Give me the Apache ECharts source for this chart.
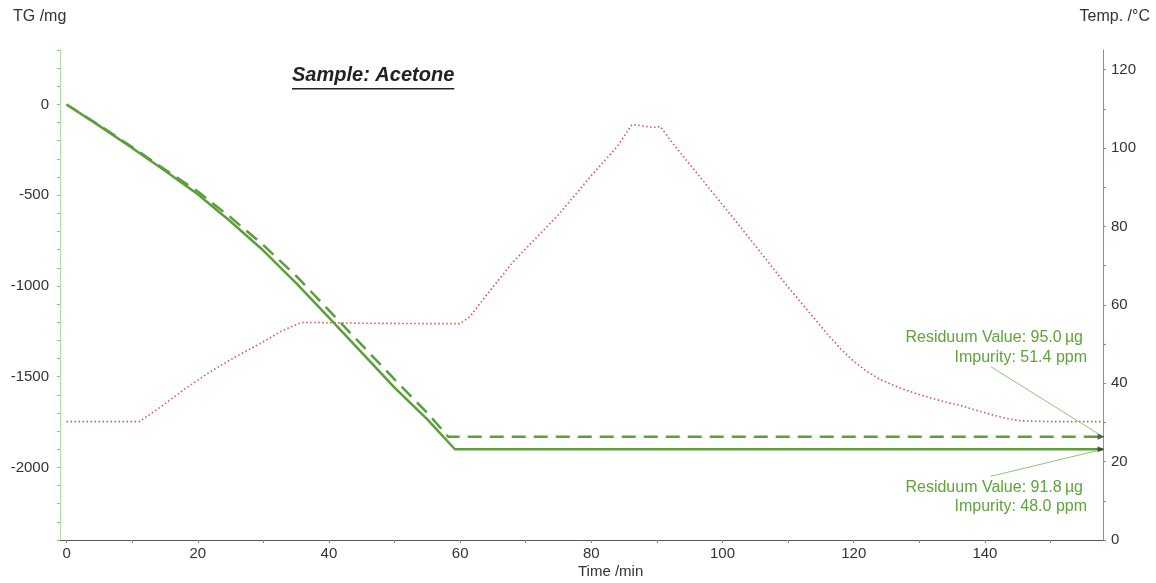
<!DOCTYPE html>
<html>
<head>
<meta charset="utf-8">
<script src="https://cdn.jsdelivr.net/npm/echarts@6/dist/echarts.min.js"></script>
<style>
html,body{margin:0;padding:0;background:#fff;}
#chart{width:1156px;height:583px;}
</style>
</head>
<body>
<div id="chart"></div>
<script>
// ---- data ----
const tgSolidTime = [0, 5, 10, 15, 20, 25, 30, 35, 40, 45, 50, 55, 59.2, 158];
const tgSolidValue = [0, -118, -240, -365, -495, -645, -805, -985, -1175, -1368, -1560, -1735, -1900, -1900];
const tgDashTime = [0, 5, 10, 15, 20, 25, 30, 35, 40, 45, 50, 55, 58.2, 158];
const tgDashValue = [0, -115, -235, -358, -480, -622, -775, -945, -1135, -1325, -1515, -1700, -1831, -1831];
const tempTime = [0, 11.1, 14.2, 18, 21.8, 25.5, 29.5, 33, 35.8, 37, 45, 55, 60, 61.5, 63.6, 68.1, 75, 80, 84, 86.2, 88, 89.5, 90.5, 92.5, 101.7, 110, 116, 118, 120, 122, 124, 126, 128, 130, 132, 134, 136.3, 138.5, 141, 143, 145.5, 150, 158];
const tempValue = [30.2, 30.2, 33.8, 38.5, 42.8, 46.5, 50.1, 53.5, 55.5, 55.5, 55.3, 55.2, 55.2, 57, 61.6, 71, 83, 93, 100.5, 106, 105.6, 105.2, 105.5, 101, 82, 64.5, 52.5, 48.8, 45.6, 43, 41, 39.5, 38.2, 37.1, 36.1, 35.2, 34.3, 33.2, 32.0, 31.1, 30.4, 30.2, 30.2];
const xLabelValues = [0, 20, 40, 60, 80, 100, 120, 140];
const xTickValues = [0, 10, 20, 30, 40, 50, 60, 70, 80, 90, 100, 110, 120, 130, 140, 150];
const tgLabelValues = [0, -500, -1000, -1500, -2000];
const tempLabelValues = [0, 20, 40, 60, 80, 100, 120];
const titleText = 'Sample: Acetone';
const annoDash = ['Residuum Value: 95.0\u2009\u00b5g', 'Impurity: 51.4 ppm'];
const annoSolid = ['Residuum Value: 91.8\u2009\u00b5g', 'Impurity: 48.0 ppm'];
// leader start anchors (data coords: time, TG)
const leaderDashStart = [140.9, -1445];
const leaderSolidStart = [140.9, -2049];

const tgTicks = []; for (let v = -2400; v <= 300; v += 100) tgTicks.push(v);
const tempTicks = []; for (let v = 0; v <= 120; v += 10) tempTicks.push(v);

const zip = (a, b) => a.map((x, i) => [x, b[i]]);
const last = a => a[a.length - 1];

const GREEN = '#5c9e3c';
const TXTGREEN = '#5fa33a';
const RED = '#e0524f';
const FONT = '"Liberation Sans", Arial, sans-serif';

const chart = echarts.init(document.getElementById('chart'));

const dashEnd = [last(tgDashTime), last(tgDashValue)];
const solidEnd = [last(tgSolidTime), last(tgSolidValue)];

const option = {
  animation: false,
  backgroundColor: '#fff',
  grid: { left: 60, right: 53, top: 50, bottom: 43 },
  xAxis: {
    type: 'value', min: -1, max: 158,
    axisLine: { show: true, onZero: false, lineStyle: { color: '#555', width: 1 } },
    axisTick: { show: true, customValues: xTickValues, length: 3, inside: false, lineStyle: { color: '#888' } },
    axisLabel: { customValues: xLabelValues, color: '#333', fontSize: 15, fontFamily: FONT, margin: 6 },
    splitLine: { show: false }
  },
  yAxis: [
    {
      type: 'value', min: -2400, max: 300,
      axisLine: { show: true, onZero: false, lineStyle: { color: '#b5dca0', width: 1 } },
      axisTick: { show: true, customValues: tgTicks, length: 3, lineStyle: { color: '#8cc56e' } },
      axisLabel: { customValues: tgLabelValues, formatter: v => String(v), color: '#333', fontSize: 15, fontFamily: FONT, margin: 11 },
      splitLine: { show: false }
    },
    {
      type: 'value', min: 0, max: 125, position: 'right',
      axisLine: { show: true, onZero: false, lineStyle: { color: '#e5686a', width: 1 } },
      axisTick: { show: true, customValues: tempTicks, length: 3, lineStyle: { color: '#e5686a' } },
      axisLabel: { customValues: tempLabelValues, color: '#333', fontSize: 15, fontFamily: FONT, margin: 8 },
      splitLine: { show: false }
    }
  ],
  series: [
    {
      type: 'line', yAxisIndex: 1, data: zip(tempTime, tempValue), showSymbol: false,
      lineStyle: { color: RED, width: 1.6, type: [1.5, 2.5] }, z: 1
    },
    {
      type: 'line', yAxisIndex: 0, data: zip(tgDashTime, tgDashValue), showSymbol: false,
      lineStyle: { color: GREEN, width: 2.5, type: [14, 8] }, z: 3
    },
    {
      type: 'line', yAxisIndex: 0, data: zip(tgSolidTime, tgSolidValue), showSymbol: false,
      lineStyle: { color: GREEN, width: 2.5 }, z: 3,
      markLine: {
        silent: true, symbol: ['none', 'none'], animation: false,
        lineStyle: { color: '#8fc773', width: 1, type: 'solid' },
        label: { show: false },
        data: [
          [{ coord: leaderDashStart }, { coord: dashEnd }],
          [{ coord: leaderSolidStart }, { coord: solidEnd }]
        ]
      }
    },
    {
      type: 'scatter', yAxisIndex: 0, data: [dashEnd, solidEnd], clip: false,
      symbol: 'triangle', symbolRotate: -90, symbolSize: [6, 7], symbolOffset: [-2, 0],
      itemStyle: { color: '#333' }, z: 5
    }
  ],
  graphic: []
};

chart.setOption(option);

// measure title width for underline
const TFONT = 'italic bold 20px ' + FONT;
const cv = document.createElement('canvas').getContext('2d');
cv.font = TFONT;
const tw = cv.measureText(titleText).width;

chart.setOption({
  graphic: [
    { type: 'text', left: 13, top: 9, style: { text: 'TG /mg', font: '16px ' + FONT, fill: '#333' } },
    { type: 'text', right: 6, top: 9, style: { text: 'Temp. /\u00b0C', font: '16px ' + FONT, fill: '#333' } },
    { type: 'text', left: 578, top: 564, style: { text: 'Time /min', font: '15px ' + FONT, fill: '#333', textAlign: 'center' } },
    { type: 'text', left: 292, top: 65, style: { text: titleText, font: TFONT, fill: '#222' } },
    { type: 'rect', shape: { x: 292, y: 88, width: tw, height: 1.5 }, style: { fill: '#222' } },
    { type: 'text', x: 1083, y: 338, style: { text: annoDash[0], font: '16px ' + FONT, fill: TXTGREEN, textAlign: 'right', textVerticalAlign: 'middle' } },
    { type: 'text', x: 1087, y: 358, style: { text: annoDash[1], font: '16px ' + FONT, fill: TXTGREEN, textAlign: 'right', textVerticalAlign: 'middle' } },
    { type: 'text', x: 1083, y: 488, style: { text: annoSolid[0], font: '16px ' + FONT, fill: TXTGREEN, textAlign: 'right', textVerticalAlign: 'middle' } },
    { type: 'text', x: 1087, y: 507, style: { text: annoSolid[1], font: '16px ' + FONT, fill: TXTGREEN, textAlign: 'right', textVerticalAlign: 'middle' } }
  ]
});
</script>
</body>
</html>
